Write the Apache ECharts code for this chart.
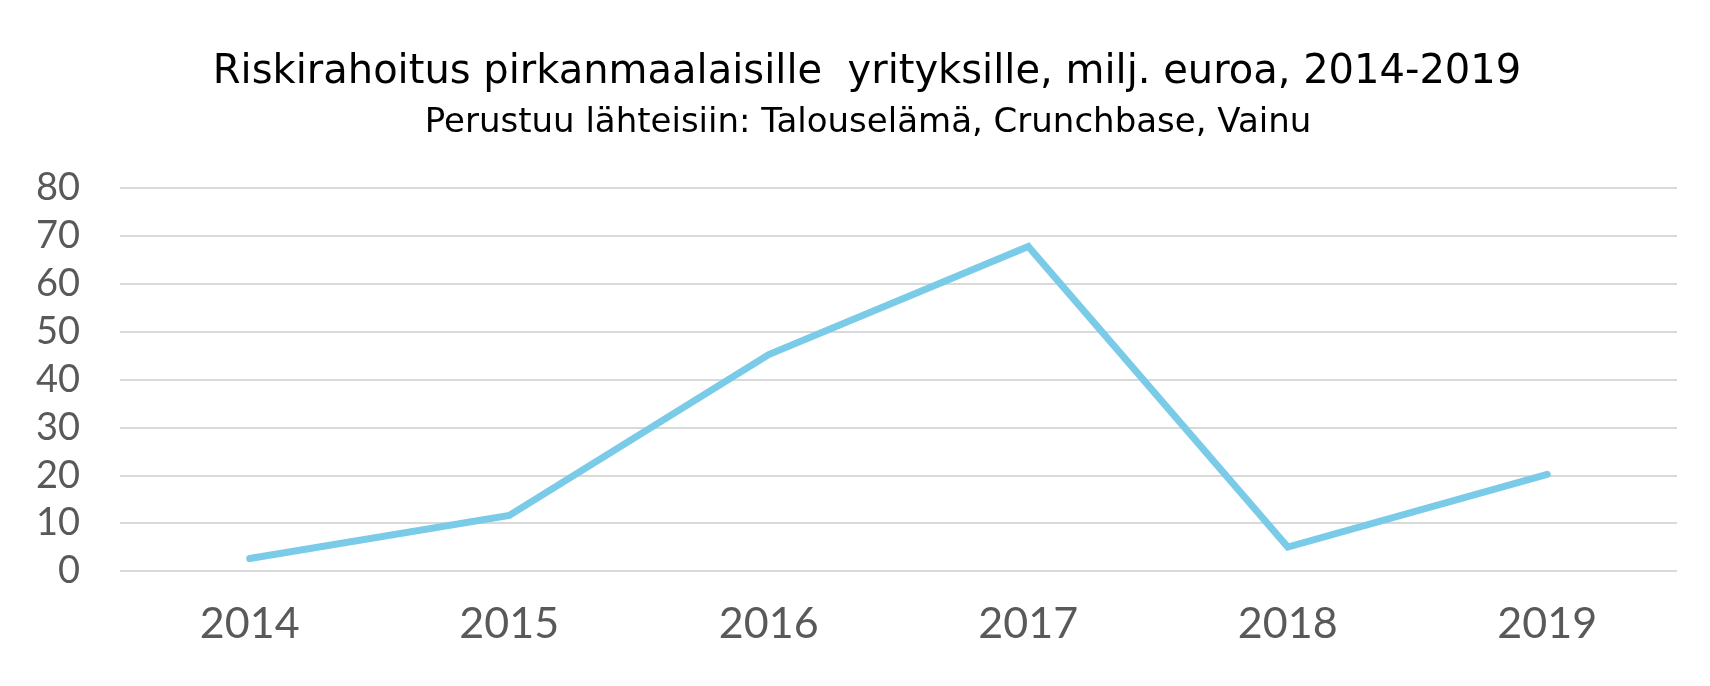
<!DOCTYPE html>
<html>
<head>
<meta charset="utf-8">
<script src="https://cdn.jsdelivr.net/npm/echarts@6/dist/echarts.min.js"></script>
<style>html,body{margin:0;padding:0;background:#fff}#c{width:1710px;height:686px}</style>
</head>
<body>
<div id="c"></div>
<script>
const years = ['2014', '2015', '2016', '2017', '2018', '2019'];
const funding = [2.6, 11.6, 45.2, 67.8, 5.0, 20.2];
const yTicks = { min: 0, max: 80, interval: 10 };
const titleText = 'Riskirahoitus pirkanmaalaisille  yrityksille, milj. euroa, 2014-2019';
const subtitleText = 'Perustuu lähteisiin: Talouselämä, Crunchbase, Vainu';

const chart = echarts.init(document.getElementById('c'));
chart.setOption({
  backgroundColor: '#ffffff',
  animation: false,
  title: [
    { text: titleText, left: 862, top: 48, textAlign: 'center',
      textStyle: { fontFamily: 'DejaVu Sans', fontSize: 40, fontWeight: 'normal', color: '#000000' } },
    { text: subtitleText, left: 863, top: 101, textAlign: 'center',
      textStyle: { fontFamily: 'DejaVu Sans', fontSize: 34, fontWeight: 'normal', color: '#000000' } }
  ],
  grid: { left: 120, right: 33, top: 188, bottom: 115, containLabel: false },
  xAxis: {
    type: 'category', data: years, boundaryGap: true,
    axisLine: { show: false }, axisTick: { show: false },
    axisLabel: { fontFamily: 'Lato', fontSize: 43, color: '#595959', margin: 32 }
  },
  yAxis: {
    type: 'value', min: yTicks.min, max: yTicks.max, interval: yTicks.interval,
    axisLine: { show: false }, axisTick: { show: false },
    axisLabel: { fontFamily: 'Lato', fontSize: 38, color: '#595959', margin: 40 },
    splitLine: { lineStyle: { color: '#d9d9d9', width: 2 } }
  },
  series: [{
    type: 'line', data: funding, showSymbol: false, symbol: 'none',
    lineStyle: { color: '#7acbe8', width: 7, join: 'miter', cap: 'round' }
  }]
});
</script>
</body>
</html>
